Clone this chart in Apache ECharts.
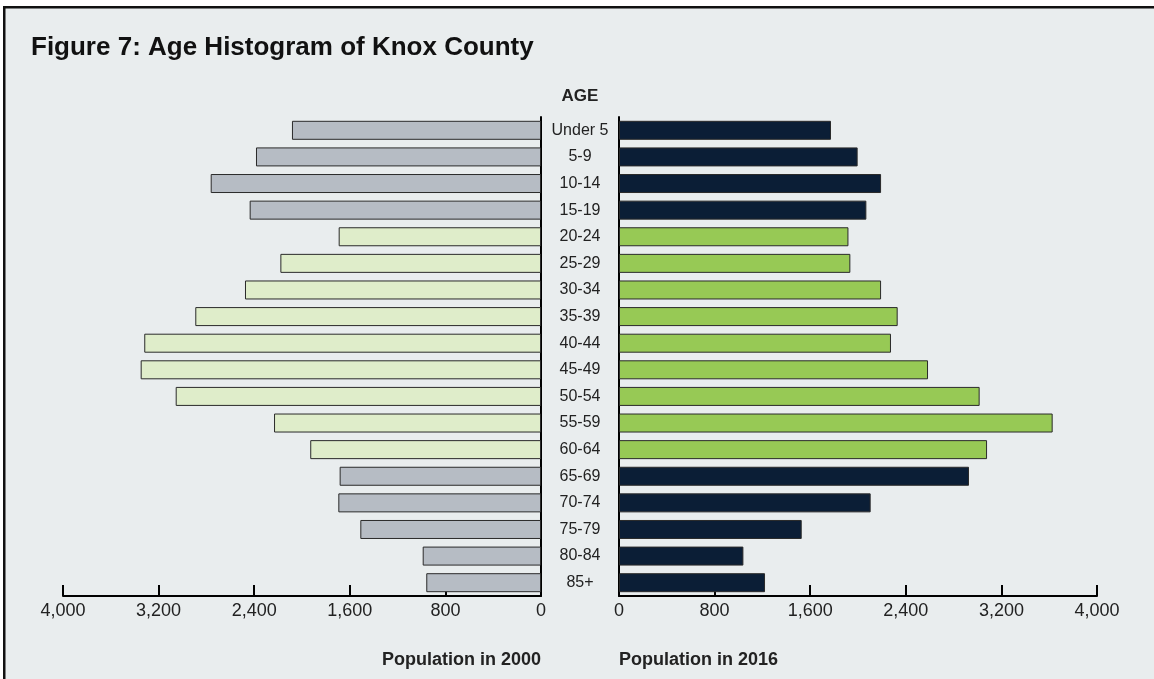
<!DOCTYPE html>
<html>
<head>
<meta charset="utf-8">
<script src="https://cdn.jsdelivr.net/npm/echarts@6/dist/echarts.min.js"></script>
<style>
  html, body { margin: 0; padding: 0; background: #ffffff; }
  #chart { width: 1154px; height: 679px; }
</style>
</head>
<body>
<div id="chart"></div>
<script>
// ---- Data ----
const ageGroups = ['Under 5', '5-9', '10-14', '15-19', '20-24', '25-29', '30-34', '35-39', '40-44',
  '45-49', '50-54', '55-59', '60-64', '65-69', '70-74', '75-79', '80-84', '85+'];
const pop2000 = [2084, 2385, 2764, 2438, 1693, 2181, 2477, 2893, 3320,
  3350, 3057, 2234, 1931, 1685, 1696, 1512, 990, 960];
const pop2016 = [1774, 1997, 2193, 2070, 1920, 1936, 2193, 2332, 2276,
  2586, 3018, 3629, 3080, 2929, 2106, 1529, 1041, 1222];
const workingAgeGroups = ['20-24', '25-29', '30-34', '35-39', '40-44', '45-49', '50-54', '55-59', '60-64'];
const axisTicks = [0, 800, 1600, 2400, 3200, 4000];

// ---- Styles ----
const C = {
  bg: '#e9edee',
  grey: '#b6bcc4',
  lightGreen: '#dfedca',
  navy: '#0b1e36',
  green: '#97c955',
  border: '#2a2a2a',
  text: '#222222'
};
const FONT = '"Liberation Sans", Arial, sans-serif';
const fmt = v => v.toLocaleString('en-US');

function styled(values, workColor, otherColor) {
  return values.map((v, i) => ({
    value: v,
    itemStyle: {
      color: workingAgeGroups.includes(ageGroups[i]) ? workColor : otherColor,
      borderColor: C.border,
      borderWidth: 1
    }
  }));
}

const chart = echarts.init(document.getElementById('chart'), null, { renderer: 'canvas' });

const GRID_TOP = 117, GRID_H = 479;
const tickMax = axisTicks[axisTicks.length - 1];
const tickStep = axisTicks[1] - axisTicks[0];

const xAxisCommon = {
  type: 'value',
  min: axisTicks[0],
  max: tickMax,
  interval: tickStep,
  splitLine: { show: false },
  axisLine: { show: true, lineStyle: { color: '#000', width: 2 } },
  axisTick: { show: true, inside: true, length: 11, lineStyle: { color: '#000', width: 2 } },
  axisLabel: { formatter: fmt, color: C.text, fontSize: 18, fontFamily: FONT, margin: 6 }
};

chart.setOption({
  animation: false,
  backgroundColor: '#ffffff',
  graphic: [
    { type: 'rect', z: -10, shape: { x: 3, y: 6, width: 1151, height: 673 }, style: { fill: C.bg } },
    { type: 'rect', z: 100, shape: { x: 3, y: 6, width: 1151, height: 2.5 }, style: { fill: '#111' } },
    { type: 'rect', z: 100, shape: { x: 3, y: 6, width: 2.5, height: 673 }, style: { fill: '#111' } },
    { type: 'text', z: 50, x: 541, y: 651,
      style: { text: 'Population in 2000', fill: C.text, font: 'bold 18px ' + FONT, textAlign: 'right' } },
    { type: 'text', z: 50, x: 619, y: 651,
      style: { text: 'Population in 2016', fill: C.text, font: 'bold 18px ' + FONT, textAlign: 'left' } },
    { type: 'text', z: 50, x: 580, y: 88,
      style: { text: 'AGE', fill: C.text, font: 'bold 17px ' + FONT, textAlign: 'center' } }
  ],
  title: {
    text: 'Figure 7: Age Histogram of Knox County',
    left: 26, top: 30,
    textStyle: { fontSize: 26, fontWeight: 'bold', color: '#111', fontFamily: FONT }
  },
  grid: [
    { left: 63, width: 478, top: GRID_TOP, height: GRID_H },
    { left: 619, width: 478, top: GRID_TOP, height: GRID_H }
  ],
  xAxis: [
    Object.assign({}, xAxisCommon, { gridIndex: 0, inverse: true }),
    Object.assign({}, xAxisCommon, { gridIndex: 1 })
  ],
  yAxis: [
    {
      type: 'category', gridIndex: 0, data: ageGroups, inverse: true, position: 'right',
      axisLine: { show: true, lineStyle: { color: '#000', width: 2 } },
      axisTick: { show: false }, axisLabel: { show: false }
    },
    {
      type: 'category', gridIndex: 1, data: ageGroups, inverse: true, position: 'left',
      axisLine: { show: true, lineStyle: { color: '#000', width: 2 } },
      axisTick: { show: false },
      axisLabel: { show: true, align: 'center', margin: 39, color: C.text, fontSize: 16, fontFamily: FONT }
    }
  ],
  series: [
    { type: 'bar', xAxisIndex: 0, yAxisIndex: 0, barWidth: 19, data: styled(pop2000, C.lightGreen, C.grey) },
    { type: 'bar', xAxisIndex: 1, yAxisIndex: 1, barWidth: 19, data: styled(pop2016, C.green, C.navy) }
  ]
});
</script>
</body>
</html>
